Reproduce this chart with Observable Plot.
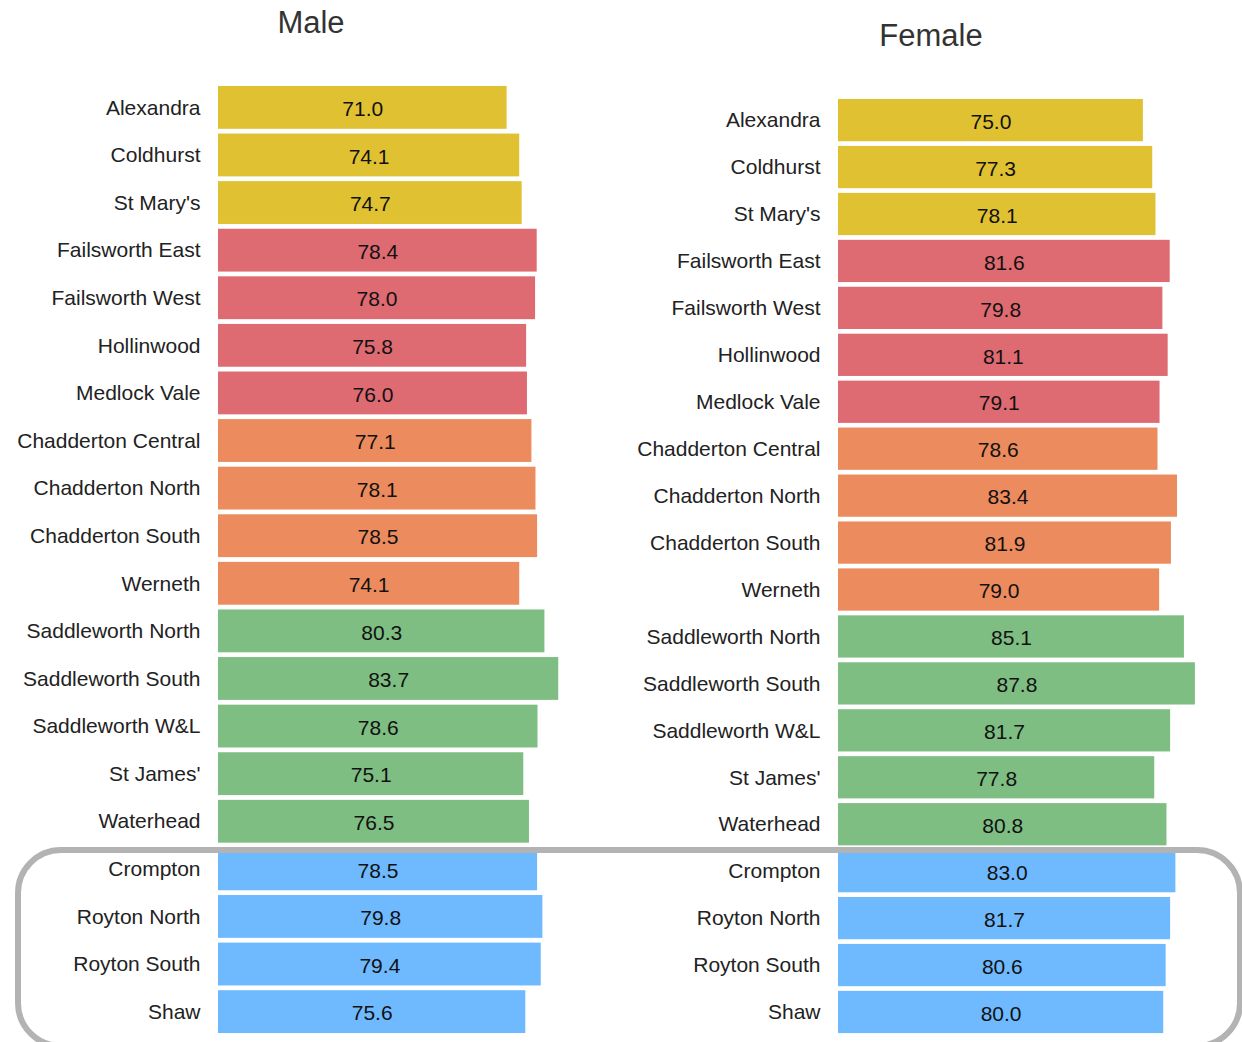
<!DOCTYPE html>
<html><head><meta charset="utf-8">
<script src="https://cdn.jsdelivr.net/npm/d3@7"></script>
<script src="https://cdn.jsdelivr.net/npm/@observablehq/plot@0.6"></script>
<style>
html,body{margin:0;padding:0;background:#fff;}
#root{position:relative;width:1242px;height:1042px;overflow:hidden;font-family:"Liberation Sans",Arial,sans-serif;}
.title{position:absolute;width:620px;text-align:center;font-size:31px;line-height:31px;color:#333;}
.panel{position:absolute;top:0;}
.frame{position:absolute;z-index:2;left:15px;top:847px;width:1228px;height:202px;box-sizing:border-box;border:6px solid #b3b3b3;border-radius:46px;pointer-events:none;}
</style></head><body>
<div id="root">
<div class="title" style="left:1px;top:7px">Male</div>
<div class="title" style="left:621px;top:20px">Female</div>
<div class="panel" id="male" style="left:0"></div>
<div class="panel" id="female" style="left:620px"></div>
<div class="frame"></div>
</div>
<script>
const wards = ["Alexandra","Coldhurst","St Mary's","Failsworth East","Failsworth West","Hollinwood","Medlock Vale","Chadderton Central","Chadderton North","Chadderton South","Werneth","Saddleworth North","Saddleworth South","Saddleworth W&L","St James'","Waterhead","Crompton","Royton North","Royton South","Shaw"];
const groups = ["Central","Central","Central","Failsworth","Failsworth","Failsworth","Failsworth","Chadderton","Chadderton","Chadderton","Chadderton","Saddleworth","Saddleworth","Saddleworth","Saddleworth","Saddleworth","Royton & Shaw","Royton & Shaw","Royton & Shaw","Royton & Shaw"];
const maleValues = [71.0,74.1,74.7,78.4,78.0,75.8,76.0,77.1,78.1,78.5,74.1,80.3,83.7,78.6,75.1,76.5,78.5,79.8,79.4,75.6];
const femaleValues = [75.0,77.3,78.1,81.6,79.8,81.1,79.1,78.6,83.4,81.9,79.0,85.1,87.8,81.7,77.8,80.8,83.0,81.7,80.6,80.0];
const groupNames = ["Central","Failsworth","Chadderton","Saddleworth","Royton & Shaw"];
const groupColors = ["#e0c132","#de6a72","#ec8b5e","#7ebe83","#6fbaff"];
const fmt = d3.format(".1f");
const FONT = '"Liberation Sans", Arial, sans-serif';

function panel(values, top) {
  const data = wards.map((w, i) => ({ward: w, group: groups[i], value: values[i]}));
  return Plot.plot({
    width: 620, height: 1042,
    marginTop: top, marginBottom: 4.2, marginLeft: 218, marginRight: 0,
    style: {fontFamily: FONT, background: "transparent", overflow: "visible"},
    x: {domain: [0, 100], range: [218, 624.5], axis: null},
    y: {domain: wards, padding: 0.1, round: false, label: null},
    color: {domain: groupNames, range: groupColors},
    marks: [
      Plot.barX(data, {x: "value", y: "ward", fill: "group"}),
      Plot.text(data, {x: d => d.value / 2, y: "ward", text: d => fmt(d.value), fontSize: 21, fill: "#111", dy: 1.5}),
      Plot.axisY({tickSize: 0, tickPadding: 18, fontSize: 21, label: null, color: "#222"})
    ]
  });
}
document.getElementById("male").appendChild(panel(maleValues, 81.2));
document.getElementById("female").appendChild(panel(femaleValues, 94.3));
</script>
</body></html>
